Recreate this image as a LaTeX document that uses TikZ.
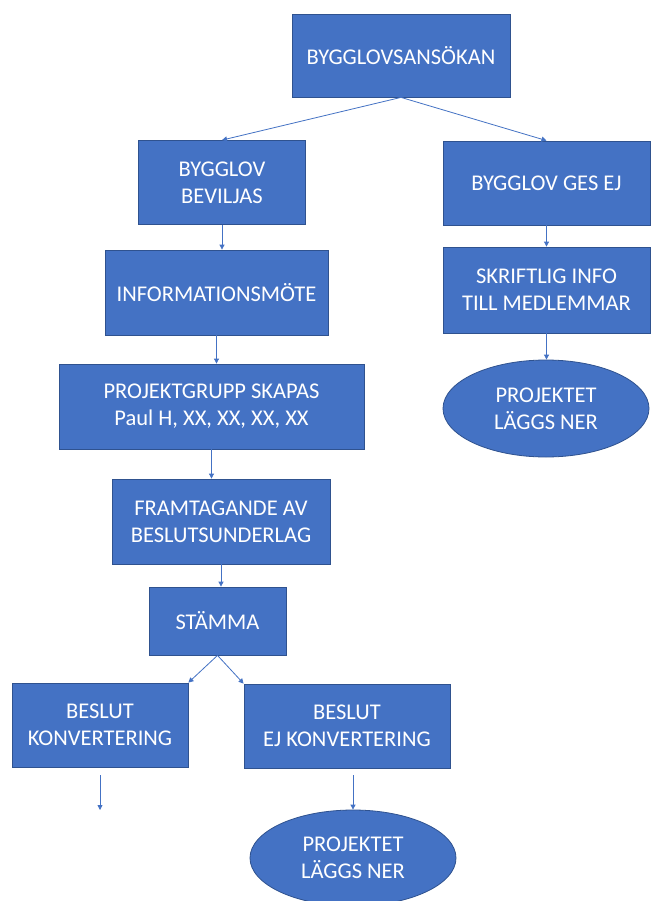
\documentclass[tikz,border=0pt]{standalone}
\usepackage{fontspec}
\setmainfont{Carlito}
\usepackage{tikz}
\usetikzlibrary{arrows.meta,calc,shapes.geometric,positioning}
\tikzset{>={Triangle[length=5pt,width=5pt]}}
\definecolor{boxblue}{HTML}{4472C4}
\definecolor{boxedge}{HTML}{2F528F}
\tikzset{
    flowbox/.style={rectangle, fill=boxblue, draw=boxedge, line width=0.8pt, text=white,
        inner sep=0pt, align=center, font=\fontsize{22.5}{27}\selectfont},
    endoval/.style={ellipse, fill=boxblue, draw=boxedge, line width=0.8pt, text=white,
        inner sep=0pt, align=center, font=\fontsize{22.5}{27}\selectfont},
    conn/.style={draw=boxblue, line width=0.8pt, ->}
}

\begin{document}
\begin{tikzpicture}[x=1pt,y=-1pt]
                \useasboundingbox[fill=white] (0,0) rectangle (650,901);

                % top
                \node[flowbox, minimum width=218pt, minimum height=83pt] (ansokan) at (401,55.5) {BYGGLOVSANSÖKAN};

                % left column
                \node[flowbox, minimum width=167pt, minimum height=84pt] (beviljas) at (222,182.5) {BYGGLOV\\BEVILJAS};
                \node[flowbox, minimum width=223pt, minimum height=85pt] (info) at (216.5,292.5) {INFORMATIONSMÖTE};
                \node[flowbox, minimum width=305pt, minimum height=85pt] (projgrupp) at (211.5,406.5) {PROJEKTGRUPP SKAPAS\\Paul H, XX, XX, XX, XX};
                \node[flowbox, minimum width=218pt, minimum height=85pt] (underlag) at (221,521.5) {FRAMTAGANDE AV\\BESLUTSUNDERLAG};
                \node[flowbox, minimum width=137pt, minimum height=68pt] (stamma) at (217.5,621) {STÄMMA};
                \node[flowbox, minimum width=176pt, minimum height=84pt] (konv) at (100,725) {BESLUT\\KONVERTERING};
                \node[flowbox, minimum width=206pt, minimum height=84pt] (ejkonv) at (347,726) {BESLUT\\EJ KONVERTERING};
                \node[endoval, minimum width=206pt, minimum height=96pt] (nerA) at (353,858) {PROJEKTET\\LÄGGS NER};
                \coordinate (konvend) at (100,810);
                \coordinate (ejstart) at (353,775);

                % right column
                \node[flowbox, minimum width=207pt, minimum height=84pt] (gesej) at (546.5,183) {BYGGLOV GES EJ};
                \node[flowbox, minimum width=207pt, minimum height=86pt] (skriftlig) at (546.5,290) {SKRIFTLIG INFO\\TILL MEDLEMMAR};
                \node[endoval, minimum width=206pt, minimum height=97pt] (nerB) at (546,408.5) {PROJEKTET\\LÄGGS NER};

                % connectors
                \draw[conn] (ansokan.south) -- (beviljas.north);
                \draw[conn] (ansokan.south) -- (gesej.north);
                \draw[conn] (beviljas.south) -- (beviljas.south |- info.north);
                \draw[conn] (info.south) -- (info.south |- projgrupp.north);
                \draw[conn] (projgrupp.south) -- (projgrupp.south |- underlag.north);
                \draw[conn] (underlag.south) -- (underlag.south |- stamma.north);
                \draw[conn] (stamma.south) -- (konv.north east);
                \draw[conn] (stamma.south) -- (ejkonv.north west);
                \draw[conn] ($(konv.south)+(0,8)$) -- (konvend);
                \draw[conn] (ejstart) -- (nerA.north);
                \draw[conn] (gesej.south) -- (gesej.south |- skriftlig.north);
                \draw[conn] (skriftlig.south) -- (skriftlig.south |- nerB.north);

            \end{tikzpicture}
\end{document}
